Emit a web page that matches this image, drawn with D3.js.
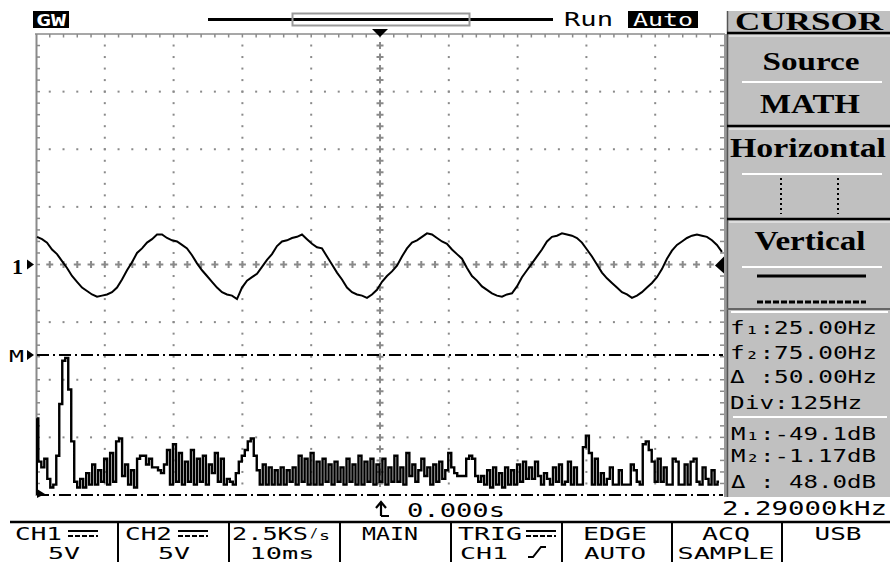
<!DOCTYPE html>
<html><head><meta charset="utf-8">
<script src="https://cdn.jsdelivr.net/npm/d3@7"></script>
<style>html,body{margin:0;padding:0;background:#fff;overflow:hidden}</style>
</head><body>
<svg id="c" width="890" height="562" xmlns="http://www.w3.org/2000/svg"></svg>
<script>
// ---------- DATA ----------
// CH1 time-domain trace, volts (5 V/div), sampled left→right across the screen
const ch1Volts = [2.4,2.2,1.9,1.3,0.9,0.3,-0.3,-1.0,-1.5,-2.0,-2.3,-2.6,-2.8,-2.7,-2.6,-2.4,-2.0,-1.3,-0.5,0.2,
1.0,1.4,1.9,2.2,2.6,2.6,2.3,2.1,2.0,1.7,1.4,0.8,0.1,-0.5,-1.0,-1.5,-2.0,-2.4,-2.6,-2.7,
-3.0,-2.0,-1.4,-1.1,-0.8,-0.2,0.4,0.9,1.6,2.0,2.1,2.3,2.4,2.6,2.2,1.8,1.5,1.4,0.7,0.0,
-0.7,-1.3,-2.0,-2.4,-2.6,-2.7,-2.9,-2.6,-2.2,-1.5,-1.0,-0.6,-0.1,0.7,1.4,1.9,2.1,2.4,2.7,2.6,
2.3,2.0,1.8,1.3,0.9,0.5,-0.3,-1.0,-1.4,-1.9,-2.2,-2.5,-2.7,-2.8,-2.6,-2.5,-1.9,-1.1,-0.5,0.1,
0.7,1.3,2.0,2.4,2.5,2.7,2.6,2.5,2.3,1.9,1.3,0.7,0.0,-0.7,-1.2,-1.6,-2.0,-2.4,-2.6,-2.9,
-2.7,-2.4,-2.0,-1.6,-1.1,-0.4,0.5,1.2,1.7,2.0,2.3,2.5,2.6,2.5,2.4,2.1,1.7,1.1];
// MATH FFT trace, dB relative to the M reference level (20 dB/div)
const fftDb = [-22,-37,-39,-36,-43,-46,-45,-35,-17,-2,-1,-12,-30,-44,-46,-43,-46,-41,-45,-38,
-45,-40,-44,-36,-45,-34,-44,-30,-29,-42,-38,-45,-40,-46,-36,-35,-35,-38,-36,-39,
-39,-40,-41,-38,-33,-45,-31,-44,-34,-45,-37,-44,-33,-45,-36,-44,-35,-45,-38,-41,
-34,-44,-36,-45,-43,-44,-45,-41,-37,-35,-33,-30,-29,-35,-40,-45,-38,-45,-39,-45,
-40,-45,-39,-45,-40,-44,-39,-45,-35,-44,-36,-45,-34,-45,-37,-45,-36,-44,-38,-45,
-37,-44,-39,-45,-36,-44,-38,-45,-35,-45,-37,-44,-36,-45,-38,-44,-36,-45,-39,-44,
-35,-44,-39,-45,-34,-42,-38,-44,-40,-36,-42,-39,-45,-38,-44,-37,-43,-40,-34,-39,
-41,-42,-42,-42,-36,-35,-36,-42,-44,-42,-45,-40,-46,-39,-45,-41,-46,-39,-45,-40,
-45,-38,-44,-37,-43,-39,-43,-37,-42,-45,-41,-43,-45,-39,-44,-38,-45,-44,-37,-45,
-39,-45,-45,-32,-28,-34,-45,-36,-45,-41,-45,-43,-39,-45,-45,-40,-45,-45,-45,-38,
-40,-44,-45,-31,-30,-33,-37,-44,-36,-44,-39,-45,-45,-36,-37,-45,-45,-38,-45,-37,
-36,-44,-45,-39,-43,-45,-40,-45,-44];
const timeDomain = [-50, 50];     // ms (10 ms/div)
const voltDomain = [-20, 20];     // V  (5 V/div)
const fftFreqDomain = [0, 1250];  // Hz (125 Hz/div)
const dbPerDiv = 20;
const mathOffsetDiv = -1.57;
const menuTop = ["CH1", "CH2", "2.5KS", "MAIN", "TRIG", "EDGE", "ACQ", "USB"];
const menuBottom = ["5V", "5V", "10ms", "", "CH1", "AUTO", "SAMPLE", ""];
const cursorTitles = ["CURSOR", "Source", "MATH", "Horizontal", "Vertical"];
const cursorLines = ["f\u2081:25.00Hz", "f\u2082:75.00Hz", "\u0394 :50.00Hz", "Div:125Hz"];
const markerLines = ["M\u2081:-49.1dB", "M\u2082:-1.17dB", "\u0394 : 48.0dB"];
const statusTexts = ["GW", "Run", "Auto"];
const triggerTime = "0.000s";
const trigFreq = "2.29000kHz";

// ---------- DRAW ----------
const svg = d3.select("#c");
const MONO = "'DejaVu Sans Mono', monospace";
const SERIF = "'Liberation Serif', 'DejaVu Serif', serif";
const GRID = "#8a8a8a", PANEL = "#c0c0c0";

const x = d3.scaleLinear().domain(timeDomain).range([36, 724]);
const y = d3.scaleLinear().domain(voltDomain).range([495, 34]);
const divY = (y(0) - y(5));

function txt(xp, yp, s, o = {}) {
  const t = svg.append("text").attr("x", xp).attr("y", yp).text(s)
    .attr("font-family", o.family || MONO).attr("font-size", o.size || 18)
    .attr("font-weight", o.weight || "normal").attr("fill", o.fill || "#000")
    .attr("text-anchor", o.anchor || "start");
  if (o.len) t.attr("textLength", o.len).attr("lengthAdjust", "spacingAndGlyphs");
  return t;
}

// grid: minor positions
const minorT = d3.range(timeDomain[0], timeDomain[1] + 0.001, 2);
const minorV = d3.range(voltDomain[0], voltDomain[1] + 0.001, 1);
const majorT = d3.range(-40, 41, 10).filter(d => d !== 0);
const majorV = d3.range(-15, 16, 5).filter(d => d !== 0);
const gGrid = svg.append("g");
majorT.forEach(t => {
  gGrid.selectAll(null).data(minorV.slice(1, -1)).join("rect")
    .attr("x", x(t) - 1).attr("y", d => y(d) - 1).attr("width", 2).attr("height", 2).attr("fill", GRID);
});
majorV.forEach(v => {
  gGrid.selectAll(null).data(minorT.slice(1, -1)).join("rect")
    .attr("x", d => x(d) - 1).attr("y", y(v) - 1).attr("width", 2).attr("height", 2).attr("fill", GRID);
});
function cross(cx, cy) {
  gGrid.append("path").attr("d", `M${cx-3.5},${cy}H${cx+3.5}M${cx},${cy-3.5}V${cy+3.5}`)
    .attr("stroke", GRID).attr("stroke-width", 2);
}
minorV.slice(1, -1).forEach(v => cross(x(0), y(v)));
minorT.slice(1, -1).forEach(t => cross(x(t), y(0)));

// border
const gB = svg.append("g");
gB.append("line").attr("x1", 35).attr("x2", 725).attr("y1", 34).attr("y2", 34).attr("stroke", GRID).attr("stroke-width", 1.5);
gB.append("line").attr("x1", 36.5).attr("x2", 36.5).attr("y1", 34).attr("y2", 496).attr("stroke", GRID).attr("stroke-width", 2);
gB.append("line").attr("x1", 725.5).attr("x2", 725.5).attr("y1", 34).attr("y2", 497).attr("stroke", "#9a9a9a").attr("stroke-width", 3);
gB.selectAll(null).data(minorT.slice(1, -1)).join("line")
  .attr("x1", d => x(d)).attr("x2", d => x(d)).attr("y1", 34).attr("y2", 37.5).attr("stroke", GRID).attr("stroke-width", 1.5);
gB.selectAll(null).data(minorV.slice(1, -1)).join("line")
  .attr("x1", 36).attr("x2", 40).attr("y1", d => y(d)).attr("y2", d => y(d)).attr("stroke", GRID).attr("stroke-width", 1.5);
gB.selectAll(null).data(minorV.slice(1, -1)).join("line")
  .attr("x1", 720).attr("x2", 724).attr("y1", d => y(d)).attr("y2", d => y(d)).attr("stroke", GRID).attr("stroke-width", 1.5);

// MATH reference line + bottom dash-dot
const yM = y(mathOffsetDiv * 5);
const yDb = d3.scaleLinear().domain([0, -dbPerDiv * 8]).range([yM, yM + 8 * divY]).clamp(true);
svg.append("line").attr("x1", 37).attr("x2", 723).attr("y1", yM).attr("y2", yM)
  .attr("stroke", "#000").attr("stroke-width", 2).attr("stroke-dasharray", "12,4,2,4");
svg.append("line").attr("x1", 37).attr("x2", 723).attr("y1", y(-20)).attr("y2", y(-20))
  .attr("stroke", "#000").attr("stroke-width", 2).attr("stroke-dasharray", "12,4,2,4");

// CH1 trace
const tIdx = d3.scaleLinear().domain([0, ch1Volts.length - 1]).range([-49.85, 49.7]);
svg.append("path").datum(ch1Volts)
  .attr("d", d3.line().x((d, i) => x(tIdx(i))).y(d => y(d)))
  .attr("fill", "none").attr("stroke", "#000").attr("stroke-width", 2).attr("stroke-linejoin", "miter");

// FFT trace
const fx = d3.scaleLinear().domain(fftFreqDomain).range([36, 724]);
const fIdx = d3.scaleLinear().domain([0, fftDb.length - 1]).range([1.5, 1241]);
svg.append("path").datum(fftDb)
  .attr("d", d3.line().x((d, i) => fx(fIdx(i))).y(d => yDb(d)).curve(d3.curveStep))
  .attr("fill", "none").attr("stroke", "#000").attr("stroke-width", 2.4);
svg.append("path").attr("d", `M37,${yDb(-22)}V${y(-20)}`).attr("stroke", "#000").attr("stroke-width", 2);
svg.append("path").attr("d", `M37,489L45,494L37,498Z`).attr("fill", "#000");

// channel markers
txt(12, 274, "1", { family: SERIF, weight: "bold", size: 22 });
svg.append("path").attr("d", `M27,${y(0)-5}L34,${y(0)}L27,${y(0)+5}Z`).attr("fill", "#000");
txt(9, 362, "M", { size: 16, len: 15 });
svg.append("path").attr("d", `M27,${yM-5}L34,${yM}L27,${yM+5}Z`).attr("fill", "#000");
svg.append("path").attr("d", `M724,${y(0)-8}L715,${y(0)+1}L724,${y(0)+9}Z`).attr("fill", "#000");
svg.append("path").attr("d", `M${x(0)-8},29L${x(0)+8},29L${x(0)},37Z`).attr("fill", "#000");

// top status bar
svg.append("rect").attr("x", 33).attr("y", 11).attr("width", 36).attr("height", 17).attr("fill", "#000");
txt(51, 26, statusTexts[0], { size: 16, fill: "#fff", anchor: "middle", weight: "bold", len: 30 });
svg.append("line").attr("x1", 208).attr("x2", 553).attr("y1", 19.5).attr("y2", 19.5).attr("stroke", "#000").attr("stroke-width", 3);
svg.append("rect").attr("x", 292.5).attr("y", 13.5).attr("width", 177).attr("height", 12).attr("fill", "none").attr("stroke", "#999").attr("stroke-width", 2);
txt(564, 26, statusTexts[1], { size: 19, len: 49 });
svg.append("rect").attr("x", 628).attr("y", 11).attr("width", 70).attr("height", 17).attr("fill", "#000");
txt(663, 25.5, statusTexts[2], { size: 17, fill: "#fff", anchor: "middle", len: 60 });

// right cursor panel
svg.append("rect").attr("x", 728).attr("y", 11).attr("width", 162).attr("height", 486).attr("fill", PANEL);
svg.append("line").attr("x1", 727.5).attr("x2", 727.5).attr("y1", 11).attr("y2", 497).attr("stroke", "#555").attr("stroke-width", 1.5);
[33, 126, 219].forEach(yy => svg.append("line").attr("x1", 727).attr("x2", 890).attr("y1", yy).attr("y2", yy).attr("stroke", "#000").attr("stroke-width", 2.5));
[36, 129, 222].forEach(yy => svg.append("line").attr("x1", 729).attr("x2", 890).attr("y1", yy).attr("y2", yy).attr("stroke", "#e6e6e6").attr("stroke-width", 1.5));
svg.append("line").attr("x1", 727).attr("x2", 890).attr("y1", 309).attr("y2", 309).attr("stroke", "#666").attr("stroke-width", 2);
[82, 174, 267].forEach(yy => svg.append("line").attr("x1", 742).attr("x2", 882).attr("y1", yy).attr("y2", yy).attr("stroke", "#fff").attr("stroke-width", 2));
svg.append("line").attr("x1", 731).attr("x2", 888).attr("y1", 312).attr("y2", 312).attr("stroke", "#fff").attr("stroke-width", 2);
svg.append("line").attr("x1", 733).attr("x2", 887).attr("y1", 417).attr("y2", 417).attr("stroke", "#fff").attr("stroke-width", 2);

txt(809, 30, cursorTitles[0], { family: SERIF, weight: "bold", size: 25, anchor: "middle", len: 148 });
txt(811, 70, cursorTitles[1], { family: SERIF, weight: "bold", size: 26, anchor: "middle", len: 97 });
txt(810, 113, cursorTitles[2], { family: SERIF, weight: "bold", size: 27, anchor: "middle", len: 100 });
txt(808, 157, cursorTitles[3], { family: SERIF, weight: "bold", size: 27, anchor: "middle", len: 156 });
txt(810, 250, cursorTitles[4], { family: SERIF, weight: "bold", size: 27, anchor: "middle", len: 111 });
[781, 838].forEach(xx => svg.append("line").attr("x1", xx).attr("x2", xx).attr("y1", 178).attr("y2", 214)
  .attr("stroke", "#000").attr("stroke-width", 2).attr("stroke-dasharray", "2,3"));
svg.append("line").attr("x1", 757).attr("x2", 866).attr("y1", 276).attr("y2", 276).attr("stroke", "#000").attr("stroke-width", 3);
svg.append("line").attr("x1", 757).attr("x2", 866).attr("y1", 302).attr("y2", 302).attr("stroke", "#000").attr("stroke-width", 3).attr("stroke-dasharray", "6,2");

[333.5, 358.5, 382.5, 408.5].forEach((yy, i) =>
  txt(730, yy, cursorLines[i], { size: 18, len: cursorLines[i].length * 14.7 }));
[440, 462, 488].forEach((yy, i) =>
  txt(731, yy, markerLines[i], { size: 18, len: 145 }));

// bottom info line
svg.append("path").attr("d", "M381,516V503M376,508L381,502L386,508M381,516H389").attr("fill", "none").attr("stroke", "#000").attr("stroke-width", 2.2);
txt(407, 517, triggerTime, { size: 19, len: 98 });
txt(722, 515, trigFreq, { size: 19, len: 165 });

// bottom menu
svg.append("line").attr("x1", 10).attr("x2", 890).attr("y1", 522).attr("y2", 522).attr("stroke", "#000").attr("stroke-width", 2.5);
[118, 229, 340, 451, 562, 672, 782].forEach(xx => svg.append("line").attr("x1", xx).attr("x2", xx).attr("y1", 522).attr("y2", 562).attr("stroke", "#000").attr("stroke-width", 2));
function dcSym(x0) {
  svg.append("line").attr("x1", x0).attr("x2", x0 + 30).attr("y1", 531).attr("y2", 531).attr("stroke", "#000").attr("stroke-width", 2);
  svg.append("line").attr("x1", x0).attr("x2", x0 + 30).attr("y1", 536).attr("y2", 536).attr("stroke", "#000").attr("stroke-width", 2).attr("stroke-dasharray", "5,2");
}
txt(15, 540, menuTop[0], { size: 18, len: 47 }); dcSym(68);
txt(125, 540, menuTop[1], { size: 18, len: 47 }); dcSym(178);
txt(232, 540, menuTop[2], { size: 18, len: 76 });
txt(310, 537, "/", { size: 13, len: 8 }); txt(319, 540, "s", { size: 12, len: 11 });
txt(390, 540, menuTop[3], { size: 18, anchor: "middle", len: 56 });
txt(458, 540, menuTop[4], { size: 18, len: 64 }); dcSym(526);
txt(615, 540, menuTop[5], { size: 18, anchor: "middle", len: 64 });
txt(726, 540, menuTop[6], { size: 18, anchor: "middle", len: 48 });
txt(838, 540, menuTop[7], { size: 18, anchor: "middle", len: 47 });
txt(64, 558.5, menuBottom[0], { size: 16, anchor: "middle", len: 32 });
txt(174, 558.5, menuBottom[1], { size: 16, anchor: "middle", len: 32 });
txt(282, 558.5, menuBottom[2], { size: 16, anchor: "middle", len: 65 });
txt(460, 558.5, menuBottom[4], { size: 16, len: 48 });
svg.append("path").attr("d", "M528,557H533L541,547H546").attr("fill", "none").attr("stroke", "#000").attr("stroke-width", 2);
txt(615, 558.5, menuBottom[5], { size: 16, anchor: "middle", len: 62 });
txt(726, 558.5, menuBottom[6], { size: 16, anchor: "middle", len: 97 });
</script>
</body></html>
